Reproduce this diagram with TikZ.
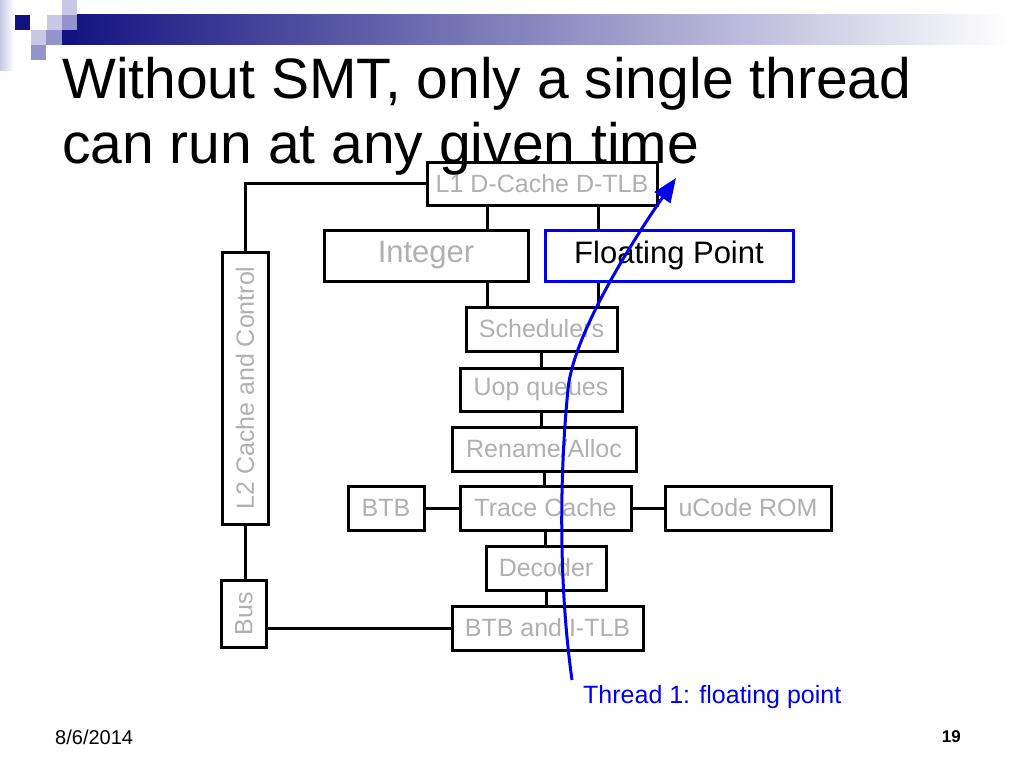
\documentclass[tikz,border=0pt]{standalone}
\usepackage{fontspec}
\setmainfont{Liberation Sans}
\usetikzlibrary{arrows.meta}

\definecolor{slidenavy}{RGB}{18,18,128}
\definecolor{sqlight}{RGB}{200,200,228}
\definecolor{sqmid}{RGB}{148,148,204}
\definecolor{unitgray}{RGB}{176,176,176}
\definecolor{threadblue}{RGB}{0,0,235}

\tikzset{
  unit/.style = {draw, line width=3pt, text=unitgray, inner sep=0pt,
    font=\fontsize{25}{30}\selectfont},
  bigunit/.style = {unit, font=\fontsize{31}{36}\selectfont},
  link/.style = {line width=3pt},
}

\begin{document}
\begin{tikzpicture}[x=1pt, y=-1pt]

\useasboundingbox (0, 0) rectangle (1024, 768);
\fill[white] (0, 0) rectangle (1024, 768);

% slide decoration
\shade[left color=sqlight, right color=white] (0, 0) rectangle (14, 70);
\shade[left color=slidenavy, right color=white] (62, 15) rectangle (1010, 45);
\fill[sqlight] (62, 0) rectangle (77, 15);
\fill[slidenavy] (15, 15) rectangle (30, 30);
\fill[sqlight] (47, 15) rectangle (62, 30);
\fill[sqmid] (62, 15) rectangle (77, 30);
\fill[slidenavy] (62, 30) rectangle (77, 45);
\fill[sqlight] (31, 30) rectangle (46, 45);
\fill[sqmid] (46, 30) rectangle (62, 45);
\fill[sqmid] (31, 45) rectangle (46, 60);

% units
\node[unit, minimum width=230, minimum height=43] (l1) at (542, 183.5) {L1 D-Cache D-TLB};
\node[bigunit, minimum width=204, minimum height=51] (int) at (426, 255.5) {Integer};
\node[bigunit, draw=threadblue, text=black, minimum width=248, minimum height=51] (fp) at (669, 255.5) {Floating Point};
\node[unit, minimum width=151, minimum height=44] (sched) at (541.5, 329) {Schedulers};
\node[unit, minimum width=162, minimum height=43] (uop) at (541, 389.5) {Uop queues};
\node[unit, minimum width=184, minimum height=44] (rename) at (544, 449) {Rename/Alloc};
\node[unit, minimum width=171, minimum height=44] (trace) at (545.5, 508) {Trace Cache};
\node[unit, minimum width=76, minimum height=44] (btb) at (386, 508) {BTB};
\node[unit, minimum width=166, minimum height=44] (ucode) at (748, 508) {uCode ROM};
\node[unit, minimum width=120, minimum height=44] (decoder) at (546, 568) {Decoder};
\node[unit, minimum width=191, minimum height=44] (itlb) at (547.5, 628) {BTB and I-TLB};
\node[unit, rotate=90, minimum width=272, minimum height=46] (l2) at (245, 388) {L2 Cache and Control};
\node[unit, rotate=90, minimum width=67, minimum height=45] (bus) at (244, 613.5) {Bus};

% connections
\coordinate (colint) at (487, 0);
\coordinate (colfp) at (598, 0);
\draw[link] (l1) -| (l2);
\draw[link] (l1.south -| colint) -- (int.north -| colint);
\draw[link] (l1.south -| colfp) -- (fp.north -| colfp);
\draw[link] (int.south -| colint) -- (sched.north -| colint);
\draw[link] (fp.south -| colfp) -- (sched.north -| colfp);
\draw[link] (sched.south) -- (sched.south |- uop.north);
\draw[link] (uop.south) -- (uop.south |- rename.north);
\draw[link] (rename.south) -- (rename.south |- trace.north);
\draw[link] (btb) -- (trace);
\draw[link] (trace) -- (ucode);
\draw[link] (trace.south) -- (trace.south |- decoder.north);
\draw[link] (decoder.south) -- (decoder.south |- itlb.north);
\draw[link] (l2.west) -- (l2.west |- bus.east);
\draw[link] (itlb.west) -- (itlb.west -| bus.south);

% title
\node[anchor=base west, inner sep=0pt, font=\fontsize{57}{65}\selectfont] (title1) at (62, 98) {Without SMT, only a single thread};
\node[anchor=base west, inner sep=0pt, font=\fontsize{57}{65}\selectfont] (title2) at (62, 163) {can run at any given time};

% thread path
\node[anchor=base west, inner sep=0pt, text=threadblue, font=\fontsize{25}{30}\selectfont] (thread) at (583, 703) {Thread 1: floating point};
\coordinate (tstart) at (572, 680);
\coordinate (tbend) at (568, 389);
\coordinate (tend) at (676, 178);
\draw[threadblue, line width=3pt, -{Triangle[length=24pt, width=19pt]}]
  (tstart) .. controls (558, 580) and (560, 470) .. (tbend)
  .. controls (574, 330) and (640, 230) .. (tend);

% footer
\node[anchor=base west, inner sep=0pt, font=\fontsize{20}{24}\selectfont] (date) at (55, 744) {8/6/2014};
\node[anchor=base east, inner sep=0pt, font=\fontsize{17}{20}\selectfont\bfseries] (page) at (961, 742) {19};

\end{tikzpicture}
\end{document}
